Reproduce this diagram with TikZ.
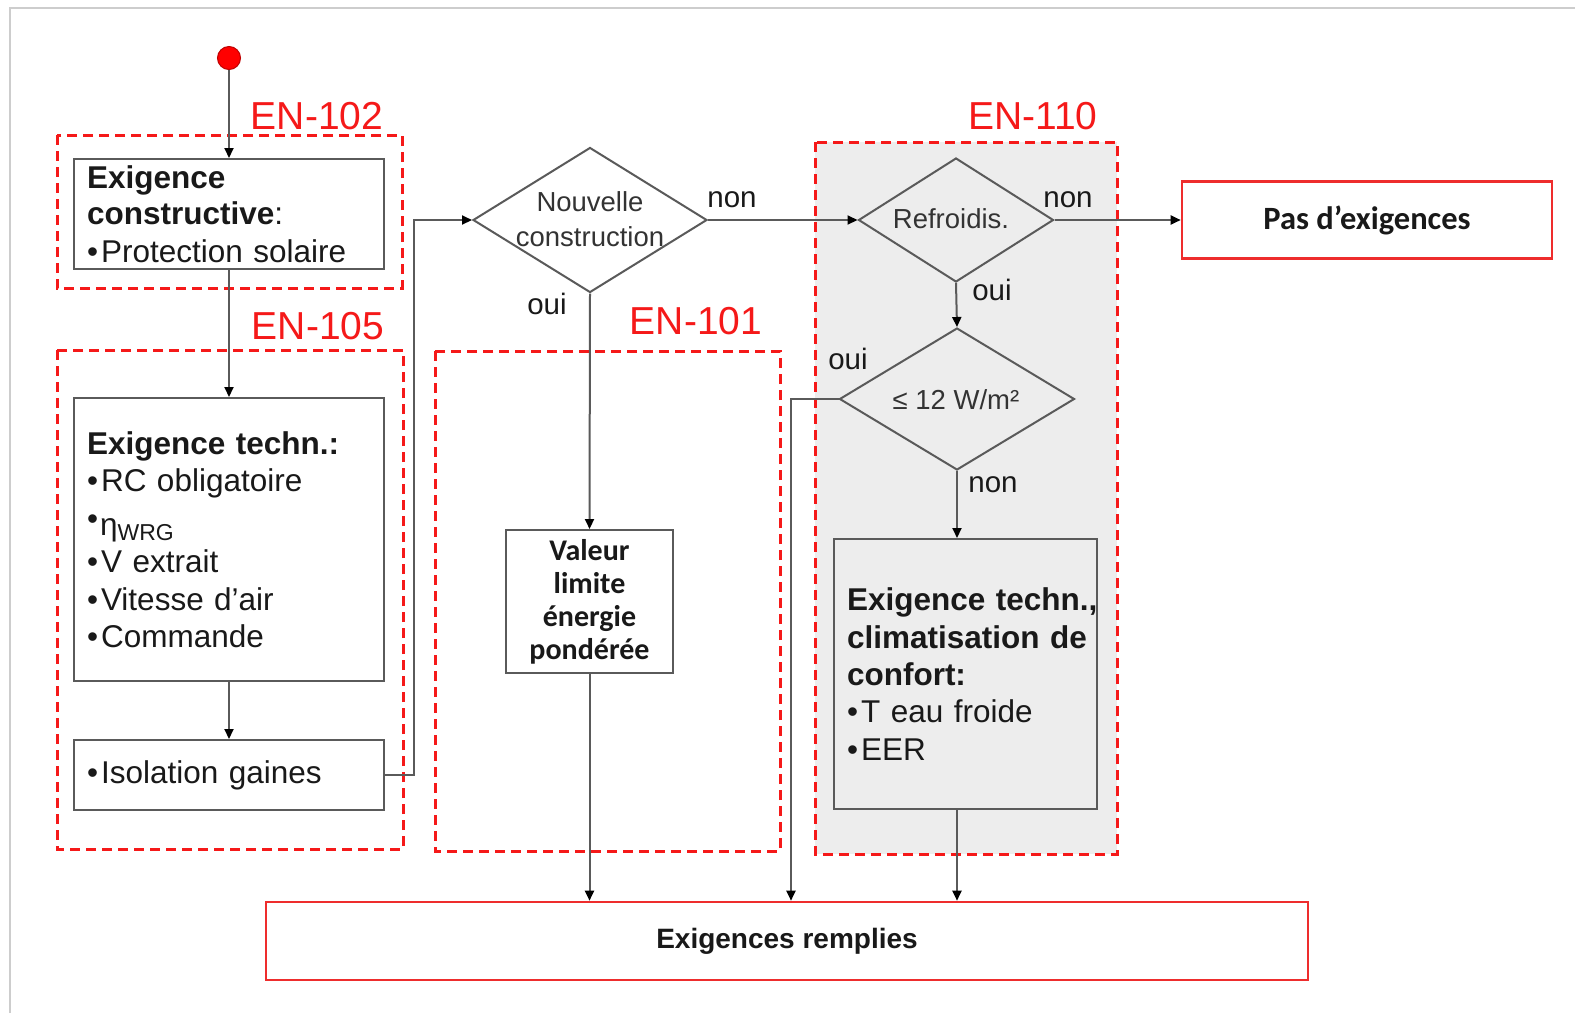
\documentclass[tikz,border=0pt]{standalone}
\usepackage{fontspec}
\setmainfont{Liberation Sans}
\newfontfamily\calib{Carlito}
\usetikzlibrary{shapes.geometric,arrows.meta}
\definecolor{enred}{RGB}{245,25,25}
\definecolor{boxred}{RGB}{238,45,45}
\definecolor{lgray}{RGB}{237,237,237}
\definecolor{edge}{RGB}{90,90,90}
\definecolor{txt}{RGB}{25,25,25}
\definecolor{frame}{RGB}{205,205,205}
\newcommand\fA{\fontsize{31.5}{37.5}\selectfont}
\newcommand\fD{\fontsize{27.5}{35}\selectfont}
\newcommand\fL{\fontsize{29.5}{29.5}\selectfont}
\newcommand\fEN{\fontsize{39}{39}\selectfont}
\hbadness=10000 \hfuzz=100pt
\begin{document}
\begin{tikzpicture}[x=1pt,y=-1pt,
  conn/.style={draw=edge, line width=2pt, -{Triangle[length=10pt,width=9pt,color=black]}},
  gbox/.style={rectangle, draw=edge, line width=2pt, inner xsep=13pt, inner ysep=0pt, align=left, text=txt, font=\fA},
  rbox/.style={rectangle, draw=boxred, line width=2.6pt, inner sep=0pt, text=txt},
  zone/.style={draw=enred, line width=3pt, dash pattern=on 10pt off 6pt},
  dia/.style={diamond, draw=edge, line width=2pt, inner sep=0pt},
  dtext/.style={text=black!80, align=center, font=\fD, inner sep=0pt},
  lab/.style={text=txt, font=\fL, anchor=base, inner sep=0pt},
  enlab/.style={text=enred, font=\fEN, anchor=base, inner sep=0pt}
]
\useasboundingbox (0,0) rectangle (1575,1013);
\fill[white] (0,0) rectangle (1575,1013);
% page frame
\draw[frame, line width=2.5pt] (10,1013) -- (10,8) -- (1575,8);

% zones
\draw[zone] (57,135) rectangle (402,288);
\draw[zone] (57,350) rectangle (403,849);
\draw[zone] (435,351) rectangle (780,851);
\fill[lgray] (815,142) rectangle (1117,854);
\draw[zone] (815,142) rectangle (1117,854);

\node[enlab] (en102) at (317,129) {EN-102};
\node[enlab] (en105) at (318,339) {EN-105};
\node[enlab] (en101) at (696,334) {EN-101};
\node[enlab] (en110) at (1033,129) {EN-110};

% start
\node[circle, fill=red, draw=red!75!black, line width=1pt, minimum size=23pt, inner sep=0pt] (start) at (229,58) {};

% left column
\node[gbox, minimum width=310, minimum height=110, text width=284] (b1) at (229,214)
  {\fontsize{31.5}{36.5}\selectfont\textbf{Exigence}\\\textbf{constructive}:\\•\hspace{3pt}Protection solaire};
\node[gbox, minimum width=310, minimum height=283, text width=284] (b2) at (229,539.5)
  {\textbf{Exigence techn.:}\\•\hspace{3pt}RC obligatoire\\[6pt]\raisebox{6pt}{•}\hspace{2pt}η\raisebox{-5pt}{\fontsize{23}{23}\selectfont WRG}\\•\hspace{3pt}V extrait\\•\hspace{3pt}Vitesse d’air\\•\hspace{3pt}Commande};
\node[gbox, minimum width=310, minimum height=70, text width=284] (b3) at (229,775)
  {•\hspace{3pt}Isolation gaines};

% middle column
\node[dia, minimum width=234, minimum height=145] (nouv) at (590,220) {};
\node[dtext] (nouvT) at (590,219.5) {Nouvelle\\construction};
\node[rbox, draw=edge, line width=2pt, minimum width=167, minimum height=143, align=center, font=\calib\bfseries\fontsize{30}{33}\selectfont] (val) at (589.5,601.5)
  {Valeur\\limite\\énergie\\pondérée};

% right column
\node[dia, minimum width=195, minimum height=124] (refr) at (956,220) {};
\node[dtext] (refrT) at (951,219) {Refroidis.};
\node[dia, minimum width=235, minimum height=142] (d12) at (957,399) {};
\node[dtext] (d12T) at (956,400) {≤ 12 W/m²};
\node[gbox, fill=lgray, minimum width=263, minimum height=270, text width=237] (clim) at (965.5,674)
  {\fontsize{31.5}{37.25}\selectfont\textbf{Exigence~techn.,}\\\textbf{climatisation~de}\\\textbf{confort:}\\•\hspace{3pt}T eau froide\\•\hspace{3pt}EER};

% result boxes
\node[rbox, minimum width=370, minimum height=77, font=\calib\bfseries\fontsize{32.5}{32.5}\selectfont] (pas) at (1367,220) {Pas d’exigences};
\node[rbox, minimum width=1042, minimum height=78, font=\bfseries\fontsize{28}{28}\selectfont] (rem) at (787,941) {Exigences remplies};

% connectors
\draw[conn] (start) -- (b1);
\draw[conn] (b1) -- (b2);
\draw[conn] (b2) -- (b3);
\draw[conn] (b3.east) -- ++(29,0) |- (nouv.west);
\draw[conn] (nouv.east) -- (refr.west);
\draw[conn] (nouv.south) -- (val.north);
\draw[conn] (val.south) -- (val.south |- rem.north);
\draw[conn] (refr.east) -- (pas.west);
\draw[conn] (refr.south) -- (d12.north);
\coordinate (c12) at (791,399);
\draw[conn] (d12.west) -- (c12) -- (c12 |- rem.north);
\draw[conn] (d12.south) -- (d12.south |- clim.north);
\draw[conn] (d12.south |- clim.south) -- (d12.south |- rem.north);

% labels
\node[lab] (n1) at (732,207) {non};
\node[lab] (o1) at (547,314) {oui};
\node[lab] (n2) at (1068,207) {non};
\node[lab] (o2) at (992,300) {oui};
\node[lab] (o3) at (848,369) {oui};
\node[lab] (n3) at (993,492) {non};
\end{tikzpicture}
\end{document}
